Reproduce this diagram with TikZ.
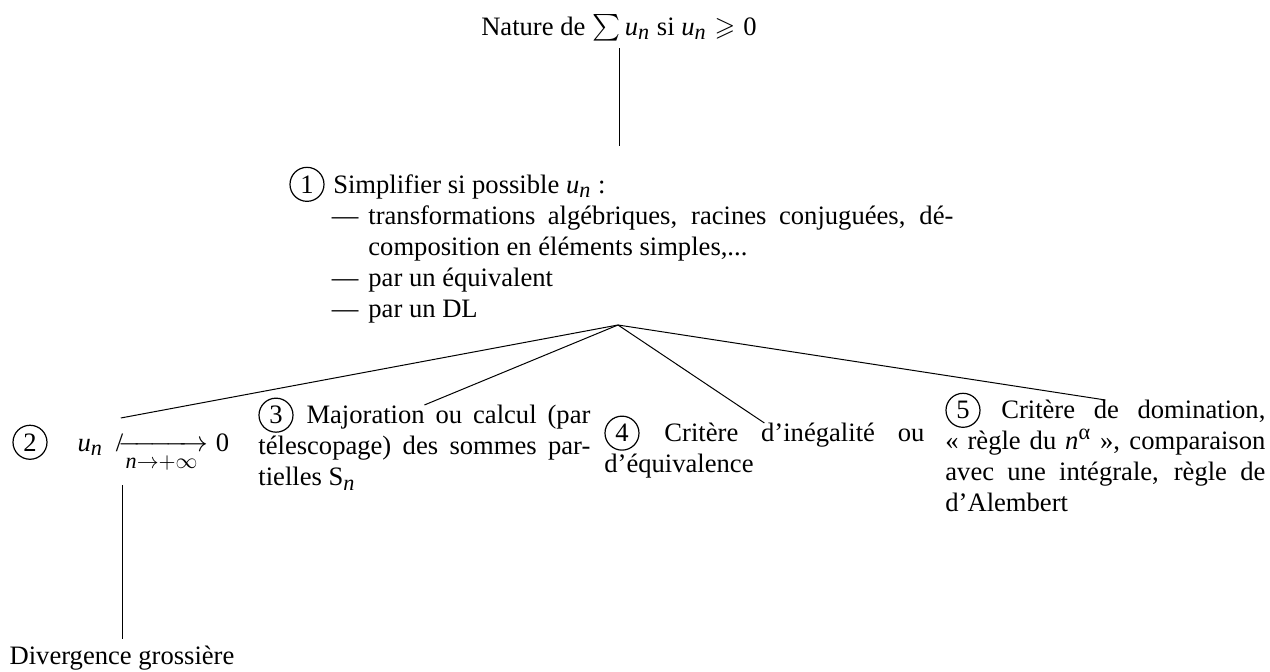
\documentclass[tikz,border=0pt]{standalone}
\usepackage{amsmath,amssymb}
\usepackage{fontspec}
\setmainfont{Liberation Serif}
\usepackage[italic]{mathastext}
\newcommand\circnum[1]{\smash{\tikz[x=1pt,y=1pt,baseline=(cn.base)]\node[draw,circle,inner sep=0pt,minimum size=17pt,line width=0.6pt](cn){#1};}}
\begin{document}
\begin{tikzpicture}[x=0.5pt,y=-0.5pt,
  font=\fontsize{13.3}{15.5}\selectfont,
  lbl/.style={inner sep=0pt,anchor=north west,align=justify},
  link/.style={line width=0.5pt}]
\useasboundingbox (0,0) rectangle (1270,672);
\node (root) at (619,28) {Nature de $\sum u_n$ si $u_n\geqslant\text{0}$};
\node[lbl,text width=332pt] (n1) at (289,174) {\circnum{1}\hspace{1pt} Simplifier si possible $u_n$ :\par
  \begin{list}{---}{\setlength\leftmargin{39.5pt}\setlength\labelwidth{14pt}\setlength\labelsep{5pt}\setlength\rightmargin{0pt}\setlength\itemsep{0pt}\setlength\parsep{0pt}\setlength\topsep{0pt}\setlength\partopsep{0pt}}
  \item transformations algébriques, racines conjuguées, dé-\linebreak composition en éléments simples,...
  \item par un équivalent
  \item par un DL
  \end{list}};
\coordinate (fan) at (618,325);
\node[lbl] (n2) at (12,433) {\circnum{2}\hspace{15pt}$u_n \mathrel{\rlap{$\mkern3mu/$}\xrightarrow[n\to+\infty]{}}\text{0}$};
\node[lbl,text width=166pt] (n3) at (258,405) {\circnum{3}\hspace{1pt} Majoration ou calcul (par\linebreak télescopage) des sommes par-\linebreak tielles S$_n$};
\node[lbl,text width=160pt] (n4) at (604,423) {\circnum{4}\hspace{1pt} Critère d'inégalité ou\linebreak d'équivalence};
\node[lbl,text width=160pt] (n5) at (945,400) {\circnum{5}\hspace{1pt} Critère de domination,\linebreak «~règle du $n^{\text{α}}$~», comparaison\linebreak avec une intégrale, règle de\linebreak d'Alembert};
\node (div) at (122,658) {Divergence grossière};
\draw[link] (root.south) -- ([yshift=14pt]root.south |- n1.north);
\draw[link] (fan) -- ([yshift=7.5pt]n2.north);
\draw[link] (fan) -- (n3.north);
\draw[link] (fan) -- (n4.north);
\draw[link] (fan) -- (n5.north);
\draw[link] ([yshift=-6pt]div.north |- n2.south) -- (div.north);
\end{tikzpicture}
\end{document}
